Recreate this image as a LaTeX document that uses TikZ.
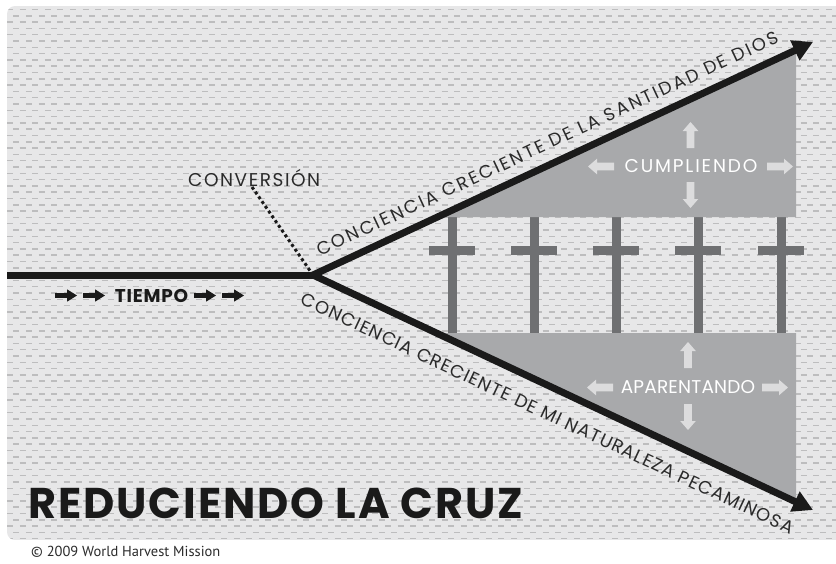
\documentclass[tikz,border=0pt]{standalone}
\usepackage{fontspec}
\setmainfont{Poppins}
\newfontfamily\copyfont{PT Sans}
\usetikzlibrary{arrows.meta}
\definecolor{bgc}{HTML}{E7E7E8}
\definecolor{dashc}{HTML}{BDBDBE}
\definecolor{band}{HTML}{A8A9AB}
\definecolor{crossc}{HTML}{6F7072}
\definecolor{ink}{HTML}{1A1A1A}
\definecolor{labc}{HTML}{2A2A2A}
\definecolor{lightc}{HTML}{DCDCDD}
\tikzset{
  barrow/.pic={\fill[lightc] (0,-3.8) -- (17,-3.8) -- (17,-7.8) -- (26,0) -- (17,7.8) -- (17,3.8) -- (0,3.8) -- cycle;},
  smarrow/.pic={\fill[ink] (0,-2.3) -- (12,-2.3) -- (12,-6.2) -- (22,0) -- (12,6.2) -- (12,2.3) -- (0,2.3) -- cycle;},
  mainline/.style={ink, line width=7pt, line join=miter},
  linelabel/.style={labc, inner sep=0pt},
  bandlabel/.style={white, inner sep=0pt},
  crossbar/.style={fill=crossc}
}
\begin{document}
\begin{tikzpicture}[x=1pt,y=-1pt]
\useasboundingbox (0,0) rectangle (836,563);
% background with dash texture
\begin{scope}
\clip[rounded corners=8pt] (7,6) rectangle (870,540);
\fill[bgc] (7,6) rectangle (870,540);
\foreach \i in {0,...,85} {
  \pgfmathsetmacro\yy{9.5+6.3*\i}
  \pgfmathsetmacro\ph{mod(\i,2)*6.3}
  \draw[dashc, line width=1.5pt, dash pattern=on 6pt off 6.6pt, dash phase=\ph pt] (7,\yy) -- (870,\yy);
}
\end{scope}
% crosses
\foreach \cx in {452,534,616,698,781} {
  \fill[crossbar] (\cx-4.5,217) rectangle (\cx+4.5,333);
  \fill[crossbar] (\cx-23,246) rectangle (\cx+23,255);
}
% gray bands
\fill[band] (437,217) -- (796,49.5) -- (796,217) -- cycle;
\fill[band] (436,333) -- (796,333) -- (796,502.5) -- cycle;
% main lines
\coordinate (start) at (7,275);
\coordinate (fork) at (313,275);
\coordinate (up) at (813,42);
\coordinate (dn) at (813,510);
\draw[mainline] (start) -- (fork);
\draw[mainline, {Triangle[length=20pt,width=21pt]}-{Triangle[length=20pt,width=21pt]}] (up) -- (fork) -- (dn);
% labels along lines
\node[linelabel, rotate=25.03, anchor=south west, font={\fontsize{18}{18}\selectfont\addfontfeature{LetterSpace=12.5}}] (ulab) at (320,257) {CONCIENCIA CRECIENTE DE LA SANTIDAD DE DIOS};
\node[linelabel, rotate=-25.2, anchor=north west, font={\fontsize{18}{18}\selectfont\addfontfeature{LetterSpace=6.3}}] (dlab) at (305,292) {CONCIENCIA CRECIENTE DE MI NATURALEZA PECAMINOSA};
% conversion
\node[labc, inner sep=0pt, anchor=base west, font={\fontsize{18.5}{18.5}\selectfont\addfontfeature{LetterSpace=8.4}}] (conv) at (188,186) {CONVERSIÓN};
\coordinate (convtail) at (252,187);
\draw[ink, line width=3pt, dash pattern=on 3pt off 2.8pt] (convtail) -- (fork);
% tiempo
\node[ink, inner sep=0pt, font={\fontsize{18.5}{18.5}\selectfont\bfseries\addfontfeature{LetterSpace=4}}] (tiempo) at (151.5,295.5) {TIEMPO};
\pic at (55,295.5) {smarrow};
\pic at (83,295.5) {smarrow};
\pic at (194,295.5) {smarrow};
\pic at (222,295.5) {smarrow};
% band labels
\node[bandlabel, font={\fontsize{18.5}{18.5}\selectfont\addfontfeature{LetterSpace=10}}] (cump) at (691,166) {CUMPLIENDO};
\pic[rotate=90] at (690.5,148) {barrow};
\pic[rotate=-90] at (690.5,182) {barrow};
\pic[rotate=180] at (614,166.5) {barrow};
\pic at (767,166.5) {barrow};
\node[bandlabel, font={\fontsize{18.5}{18.5}\selectfont\addfontfeature{LetterSpace=1}}] (apar) at (688,387) {APARENTANDO};
\pic[rotate=90] at (688,368) {barrow};
\pic[rotate=-90] at (688,404) {barrow};
\pic[rotate=180] at (613,387.5) {barrow};
\pic at (762,387.5) {barrow};
% title and copyright
\node[ink, inner sep=0pt, anchor=base west, font={\fontsize{43}{43}\selectfont\bfseries\addfontfeature{LetterSpace=4.5}}] (title) at (28,518) {REDUCIENDO LA CRUZ};
\node[labc, inner sep=0pt, anchor=base west, font={\copyfont\fontsize{14.5}{14.5}\selectfont}] (copy) at (31,556) {© 2009 World Harvest Mission};
\end{tikzpicture}
\end{document}
